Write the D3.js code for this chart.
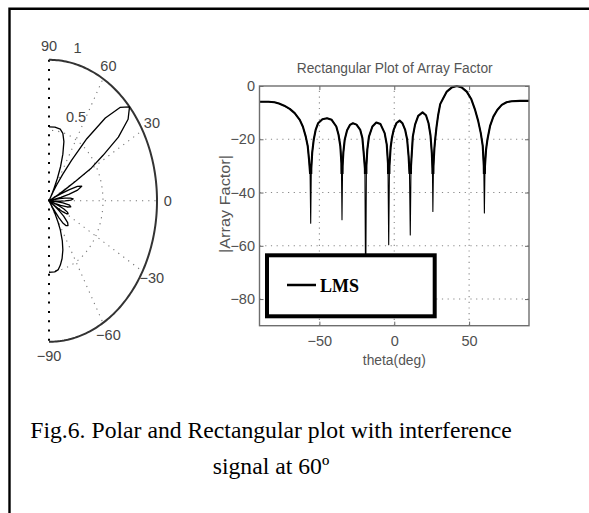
<!DOCTYPE html>
<html>
<head>
<meta charset="utf-8">
<script src="https://cdn.jsdelivr.net/npm/d3@7"></script>
<style>
  body { margin: 0; background: #fff; }
  svg { display: block; }
  text { font-family: "Liberation Sans", Arial, sans-serif; }
</style>
</head>
<body>
<div id="fig"></div>
<script>
// Array factor (theta in degrees, level in dB)
var theta = [-90, -84, -80, -77, -73.5, -69.8, -66.5, -63.1, -61, -59.1, -57.8, -56.9, -56.2, -55.8, -55.4, -54.8,
  -53.8, -52.5, -50.9, -48, -44.9, -41.8, -38.7, -37.2, -36, -35.3, -34.9, -34.5, -34, -33.1, -31.5, -29.6,
  -27.6, -25.2, -22.7, -21.3, -20.4, -19.6, -19.1, -18.6, -18, -16.9, -14.6, -12, -9.2, -6.4, -5, -4.2,
  -3.7, -3.2, -2.4, -1.5, -0.4, 1.5, 3.6, 5.5, 7.3, 8.6, 9.6, 10.2, 10.7, 11.2, 12.4, 13.9,
  16, 18.9, 21.2, 22.9, 24.2, 25.1, 25.5, 25.8, 26.2, 26.8, 27.3, 28.2, 29.3, 30.7, 32.8, 35.1,
  38.3, 41.8, 45.2, 48.4, 51.5, 54, 56, 57.8, 59.1, 59.8, 60.2, 60.6, 61.3, 62.2, 64, 66.2,
  68.8, 71.8, 75, 78.4, 84, 90];
var afDb = [-5.9, -5.9, -6.1, -6.6, -7.4, -8.6, -10.2, -12.7, -15.3, -19, -22.5, -27.7, -33, -51.5, -31, -25,
  -20.2, -16.5, -14, -12.5, -12.1, -12.7, -15.2, -18.3, -22.7, -29, -50.2, -30, -25, -20.2, -16.6, -14.6,
  -14, -14.5, -16.5, -19.5, -25.2, -31, -80, -30, -24, -19, -15.2, -13.7, -14.3, -17.7, -22, -29,
  -59.6, -30, -23, -19.3, -16.5, -13.9, -13, -14, -16.5, -20, -26.5, -33, -55.9, -30, -19, -14.5,
  -11.2, -9.9, -11, -14, -18.5, -25.2, -31, -47.1, -30, -23.5, -20.2, -15.5, -11, -6.8, -4.5, -2.1,
  -0.6, 0, -0.6, -2.1, -5, -9, -13, -17.7, -22.5, -30, -47.7, -30, -24, -20.2, -15, -11.5,
  -9, -7.1, -6.1, -5.7, -5.6, -5.6];

var xTicks = [-50, 0, 50];
var yTicks = [0, -20, -40, -60, -80];
var spokeAngles = [60, 30, 0, -30, -60];
var angleLabels = [90, 60, 30, 0, -30, -60, -90];
var ringValues = [0.5, 1];
var legendLabel = "LMS";

var svgWidth = 589, svgHeight = 513;
var svg = d3.select("#fig").append("svg")
  .attr("width", svgWidth)
  .attr("height", svgHeight);

var data = theta.map(function(t, i) { return {theta: t, db: afDb[i]}; });
var minus = function(v) { return v < 0 ? "\u2212" + Math.abs(v) : String(v); };

// page frame (left and top rule)
svg.append("path")
  .attr("d", "M9.5,513 V8.7 H589")
  .attr("fill", "none")
  .attr("stroke", "#000")
  .attr("stroke-width", 2.4);

// ---------- polar plot (stretched half ellipse) ----------
var pc = {x: 49, y: 200.8, rx: 108, ry: 141};
var px = d3.scaleLinear().domain([0, 1]).range([pc.x, pc.x + pc.rx]);
var py = d3.scaleLinear().domain([0, 1]).range([pc.y, pc.y - pc.ry]);
function pxy(angDeg, r) {
  var a = angDeg * Math.PI / 180;
  return [px(r * Math.cos(a)), py(r * Math.sin(a))];
}
var polar = svg.append("g");
var arcAngles = d3.range(-90, 90.5, 1);

// dotted spokes
spokeAngles.forEach(function(a) {
  var p0 = pxy(a, 0), p1 = pxy(a, 1);
  polar.append("line")
    .attr("x1", p0[0]).attr("y1", p0[1]).attr("x2", p1[0]).attr("y2", p1[1])
    .attr("stroke", "#777").attr("stroke-width", 1.1)
    .attr("stroke-dasharray", "1.2,5");
});
// dotted inner ring
polar.append("path")
  .attr("d", d3.line()(arcAngles.map(function(a) { return pxy(a, ringValues[0]); })))
  .attr("fill", "none").attr("stroke", "#777").attr("stroke-width", 1.1)
  .attr("stroke-dasharray", "1.2,5");
// heavy dotted vertical axis
var vTop = pxy(90, 1), vBot = pxy(-90, 1);
polar.append("line")
  .attr("x1", vTop[0]).attr("y1", vTop[1]).attr("x2", vBot[0]).attr("y2", vBot[1])
  .attr("stroke", "#000").attr("stroke-width", 2)
  .attr("stroke-dasharray", "2,7.3");
// outer ring
polar.append("path")
  .attr("d", d3.line()(arcAngles.map(function(a) { return pxy(a, ringValues[1]); })))
  .attr("fill", "none").attr("stroke", "#333").attr("stroke-width", 2);

// pattern (linear magnitude of the same array factor)
polar.append("path")
  .attr("d", d3.line()(data.map(function(d) { return pxy(d.theta, Math.pow(10, d.db / 20)); })))
  .attr("fill", "none").attr("stroke", "#000").attr("stroke-width", 1.3)
  .attr("stroke-linejoin", "round");

// angle labels
angleLabels.forEach(function(a) {
  var p = pxy(a, 1.1);
  polar.append("text")
    .attr("x", p[0]).attr("y", p[1])
    .attr("text-anchor", "middle").attr("dominant-baseline", "central")
    .attr("font-size", 14.5).attr("fill", "#444")
    .text(minus(a));
});
// radius labels
ringValues.forEach(function(v) {
  var p = pxy(82, v + 0.025);
  polar.append("text")
    .attr("x", p[0] + 9).attr("y", p[1] - 5)
    .attr("font-size", 14.5).attr("fill", "#444")
    .text(v);
});

// ---------- rectangular plot ----------
var x = d3.scaleLinear().domain([-90, 90]).range([259.5, 529]);
var y = d3.scaleLinear().domain([-90, 0]).range([325.7, 86]);
var rect = svg.append("g");

// grid
rect.selectAll(".gx").data(xTicks).enter().append("line")
  .attr("x1", function(d) { return x(d); }).attr("x2", function(d) { return x(d); })
  .attr("y1", y(-90)).attr("y2", y(0))
  .attr("stroke", "#888").attr("stroke-width", 1.1).attr("stroke-dasharray", "1.2,4.5");
rect.selectAll(".gy").data(yTicks.filter(function(d) { return d !== 0; })).enter().append("line")
  .attr("y1", function(d) { return y(d); }).attr("y2", function(d) { return y(d); })
  .attr("x1", x(-90)).attr("x2", x(90))
  .attr("stroke", "#888").attr("stroke-width", 1.1).attr("stroke-dasharray", "1.2,4.5");

// axes
rect.append("g")
  .attr("transform", "translate(0," + y(-90) + ")")
  .call(d3.axisBottom(x).tickValues(xTicks).tickSize(-4).tickPadding(10).tickFormat(minus));
rect.append("g")
  .attr("transform", "translate(" + x(-90) + ",0)")
  .call(d3.axisLeft(y).tickValues(yTicks).tickSize(-4).tickPadding(4.5).tickFormat(minus));
rect.append("g")
  .attr("transform", "translate(0," + y(0) + ")")
  .call(d3.axisTop(x).tickValues(xTicks).tickSize(-4).tickFormat(""));
rect.append("g")
  .attr("transform", "translate(" + x(90) + ",0)")
  .call(d3.axisRight(y).tickValues(yTicks).tickSize(-4).tickFormat(""));
rect.selectAll(".domain").remove();
rect.selectAll(".tick line").attr("stroke", "#666");
rect.selectAll(".tick text")
  .attr("font-size", 14.5).attr("fill", "#505050")
  .style("font-family", "'Liberation Sans', Arial, sans-serif");

// curve: thin everywhere, heavier above the deep null spikes
var defs = svg.append("defs");
defs.append("clipPath").attr("id", "clip")
  .append("rect").attr("x", x(-90)).attr("y", y(0))
  .attr("width", x(90) - x(-90)).attr("height", y(-90) - y(0));
defs.append("clipPath").attr("id", "clipTop")
  .append("rect").attr("x", x(-90)).attr("y", y(0) - 5)
  .attr("width", x(90) - x(-90)).attr("height", y(-33) - y(0) + 5);
var afLine = d3.line().x(function(d) { return x(d.theta); }).y(function(d) { return y(d.db); });
rect.append("path")
  .datum(data)
  .attr("clip-path", "url(#clip)")
  .attr("d", afLine)
  .attr("fill", "none").attr("stroke", "#000").attr("stroke-width", 1.1)
  .attr("stroke-linejoin", "round");
rect.append("path")
  .datum(data)
  .attr("clip-path", "url(#clipTop)")
  .attr("d", afLine)
  .attr("fill", "none").attr("stroke", "#000").attr("stroke-width", 2.1)
  .attr("stroke-linejoin", "round");

// box
rect.append("rect")
  .attr("x", x(-90)).attr("y", y(0))
  .attr("width", x(90) - x(-90)).attr("height", y(-90) - y(0))
  .attr("fill", "none").attr("stroke", "#6e6e6e").attr("stroke-width", 1.4);

// labels
rect.append("text")
  .attr("x", 394.7).attr("y", 73.3).attr("text-anchor", "middle")
  .attr("font-size", 14).attr("fill", "#555")
  .attr("textLength", 196).attr("lengthAdjust", "spacingAndGlyphs")
  .text("Rectangular Plot of Array Factor");
rect.append("text")
  .attr("x", 394.3).attr("y", 365).attr("text-anchor", "middle")
  .attr("font-size", 14).attr("fill", "#555")
  .attr("textLength", 63).attr("lengthAdjust", "spacingAndGlyphs")
  .text("theta(deg)");
rect.append("text")
  .attr("transform", "translate(230,204) rotate(-90)")
  .attr("text-anchor", "middle")
  .attr("font-size", 14).attr("fill", "#555")
  .attr("textLength", 98).attr("lengthAdjust", "spacingAndGlyphs")
  .text("|Array Factor|");

// legend
var legend = svg.append("g");
legend.append("rect")
  .attr("x", 267).attr("y", 255.3).attr("width", 167.7).attr("height", 61)
  .attr("fill", "#fff").attr("stroke", "#000").attr("stroke-width", 4);
legend.append("line")
  .attr("x1", 287).attr("x2", 316).attr("y1", 285).attr("y2", 285)
  .attr("stroke", "#000").attr("stroke-width", 2.5);
legend.append("text")
  .attr("x", 320).attr("y", 292.3)
  .attr("font-size", 18).attr("font-weight", "bold").attr("fill", "#000")
  .style("font-family", "'Liberation Serif', 'Times New Roman', serif")
  .text(legendLabel);

// caption
var caption = ["Fig.6. Polar and Rectangular plot with interference", "signal at 60\u00ba"];
svg.selectAll(".caption").data(caption).enter().append("text")
  .attr("x", 271)
  .attr("y", function(d, i) { return 438.3 + i * 36; })
  .attr("text-anchor", "middle")
  .attr("font-size", 23.7).attr("fill", "#000")
  .style("font-family", "'Liberation Serif', 'Times New Roman', serif")
  .text(function(d) { return d; });
</script>
</body>
</html>
